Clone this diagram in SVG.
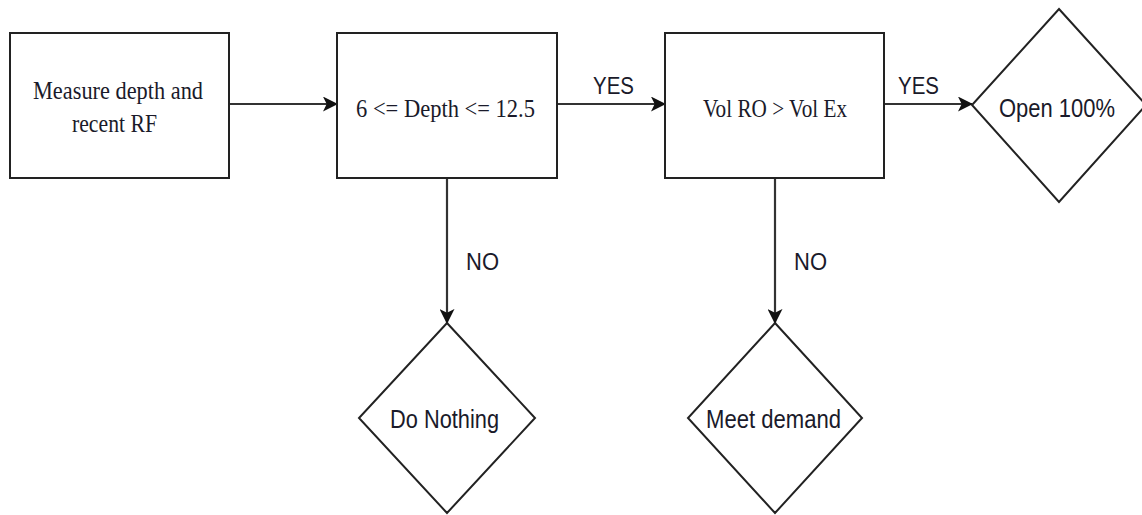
<svg xmlns="http://www.w3.org/2000/svg" width="1142" height="515" viewBox="0 0 1142 515">
<defs>
<style>
.box{fill:#fff;stroke:#222;stroke-width:2}
.edge{fill:none;stroke:#333;stroke-width:2.2}
.serif{font-family:"Liberation Serif","Times New Roman",serif;font-size:26px;fill:#1a1a2a}
.sans{font-family:"Liberation Sans",Arial,sans-serif;font-size:25px;fill:#1a1a2a}
.lbl{font-size:23px}
</style>
<marker id="arr" viewBox="0 0 16 16" refX="15" refY="8" markerWidth="15" markerHeight="15" markerUnits="userSpaceOnUse" orient="auto">
<path d="M0,0 L16,8 L0,16 L4,8 Z" fill="#111"/>
</marker>
</defs>
<rect width="1142" height="515" fill="#fff"/>
<g id="connectors">
<line class="edge" x1="229" y1="104" x2="337" y2="104" marker-end="url(#arr)"/>
<line class="edge" x1="557" y1="104" x2="665" y2="104" marker-end="url(#arr)"/>
<line class="edge" x1="884" y1="104" x2="972" y2="104" marker-end="url(#arr)"/>
<line class="edge" x1="447" y1="178" x2="447" y2="323" marker-end="url(#arr)"/>
<line class="edge" x1="775" y1="178" x2="775" y2="323" marker-end="url(#arr)"/>
<text class="sans lbl" x="593" y="94" textLength="41" lengthAdjust="spacingAndGlyphs">YES</text>
<text class="sans lbl" x="898" y="94" textLength="41" lengthAdjust="spacingAndGlyphs">YES</text>
<text class="sans lbl" x="466" y="270" textLength="33" lengthAdjust="spacingAndGlyphs">NO</text>
<text class="sans lbl" x="794" y="270" textLength="33" lengthAdjust="spacingAndGlyphs">NO</text>
</g>
<g id="measure">
<rect class="box" x="10" y="33" width="219" height="145"/>
<text class="serif" x="33" y="99" textLength="170" lengthAdjust="spacingAndGlyphs">Measure depth and</text>
<text class="serif" x="72" y="132" textLength="85" lengthAdjust="spacingAndGlyphs">recent RF</text>
</g>
<g id="depth">
<rect class="box" x="337" y="33" width="220" height="145"/>
<text class="serif" x="356" y="117" textLength="179" lengthAdjust="spacingAndGlyphs">6 &lt;= Depth &lt;= 12.5</text>
</g>
<g id="vol">
<rect class="box" x="665" y="33" width="219" height="145"/>
<text class="serif" x="703" y="117" textLength="144" lengthAdjust="spacingAndGlyphs">Vol RO &gt; Vol Ex</text>
</g>
<g id="open">
<polygon class="box" points="1059,9 1146,105 1059,202 972,105"/>
<text class="sans" x="999" y="117" textLength="116" lengthAdjust="spacingAndGlyphs">Open 100%</text>
</g>
<g id="nothing">
<polygon class="box" points="447,323 535,418 447,513 359,418"/>
<text class="sans" x="390" y="428" textLength="109" lengthAdjust="spacingAndGlyphs">Do Nothing</text>
</g>
<g id="meet">
<polygon class="box" points="775,323 862,418 775,513 688,418"/>
<text class="sans" x="706" y="428" textLength="135" lengthAdjust="spacingAndGlyphs">Meet demand</text>
</g>
</svg>
